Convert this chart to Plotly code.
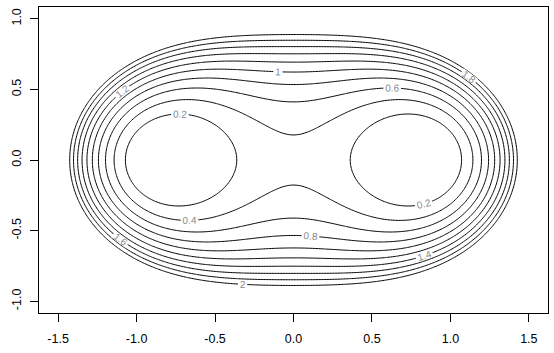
import numpy as np
import plotly.graph_objects as go

# Quartic "Cassini-like" surface:
# z = k*(x^2+y^2)^2 + cx*x^2 + cy*y^2 + c0
k_quartic = 1.066
c_x2 = -1.363
c_y2 = 1.238
c_0 = 0.36

levels_start = 0.2
levels_end = 2.0
levels_step = 0.2

x_ticks = [-1.5, -1.0, -0.5, 0.0, 0.5, 1.0, 1.5]
x_labels = ["-1.5", "-1.0", "-0.5", "0.0", "0.5", "1.0", "1.5"]
y_ticks = [-1.0, -0.5, 0.0, 0.5, 1.0]
y_labels = ["-1.0", "-0.5", "0.0", "0.5", "1.0"]

xs = np.linspace(-1.62, 1.62, 325)
ys = np.linspace(-1.08, 1.08, 217)
X, Y = np.meshgrid(xs, ys)
R2 = X**2 + Y**2
Z = k_quartic * R2**2 + c_x2 * X**2 + c_y2 * Y**2 + c_0

fig = go.Figure()
fig.add_trace(go.Contour(
    x=xs, y=ys, z=Z,
    autocontour=False,
    contours=dict(start=levels_start, end=levels_end, size=levels_step,
                  coloring="none", showlabels=True,
                  labelfont=dict(family="Liberation Sans, Arial", size=10, color="#8a8a8a")),
    line=dict(color="black", width=1),
    showscale=False,
    hoverinfo="skip",
))

axis_common = dict(showgrid=False, zeroline=False, showline=True, mirror=True,
                   linecolor="black", linewidth=1, ticks="outside", ticklen=8,
                   tickcolor="black", tickwidth=1,
                   tickfont=dict(family="Liberation Sans, Arial", size=12.5, color="black"))

fig.update_layout(
    width=554, height=353,
    margin=dict(l=39, r=6, t=7, b=40),
    paper_bgcolor="white", plot_bgcolor="white",
    showlegend=False,
    xaxis=dict(range=[-1.622, 1.622], tickvals=x_ticks, ticktext=x_labels,
               ticklabelstandoff=6, **axis_common),
    yaxis=dict(range=[-1.083, 1.083], tickvals=y_ticks, ticktext=y_labels,
               tickangle=-90, ticklabelstandoff=4, **axis_common),
)

fig.write_html("out.html")
